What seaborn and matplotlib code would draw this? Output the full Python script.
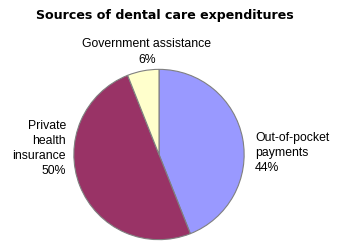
import matplotlib
matplotlib.use("Agg")
import matplotlib.pyplot as plt
import seaborn as sns

sns.set_theme(style="white")
plt.rcParams['font.family'] = ['Liberation Sans', 'DejaVu Sans']

categories = ["Out-of-pocket\npayments", "Private\nhealth\ninsurance", "Government assistance"]
values = [44, 50, 6]
colors = ["#9999FF", "#993366", "#FFFFCC"]
title = "Sources of dental care expenditures"

W, H = 337, 251
fig = plt.figure(figsize=(W / 100, H / 100), dpi=100)
fig.patch.set_facecolor("white")

cx, cy, r = 159, 155.5, 86
ax = fig.add_axes([(cx - r) / W, (H - cy - r) / H, 2 * r / W, 2 * r / H])
ax.pie(values, colors=colors, startangle=90, counterclock=False, radius=1,
       wedgeprops=dict(edgecolor="#808080", linewidth=0.8))
ax.set_xlim(-1.01, 1.01)
ax.set_ylim(-1.01, 1.01)
ax.set_axis_off()

fig.text(165 / W, 1 - 16 / H, title, ha="center", va="center",
         fontsize=9.1, fontweight="bold", color="black", family=["DejaVu Sans"])

fs = 8.8
# Out-of-pocket (right)
fig.text(255 / W, 1 - 153 / H, f"{categories[0]}\n{values[0]}%", ha="left", va="center",
         fontsize=fs, linespacing=1.35, color="black")
# Private (left)
fig.text(66 / W, 1 - 148.5 / H, f"{categories[1]}\n{values[1]}%", ha="right", va="center",
         fontsize=fs, linespacing=1.35, color="black", multialignment="right")
# Government (top)
fig.text(147 / W, 1 - 52 / H, f"{categories[2]}\n{values[2]}%", ha="center", va="center",
         fontsize=fs, linespacing=1.35, color="black")

fig.savefig("out.png", dpi=100, facecolor="white")
